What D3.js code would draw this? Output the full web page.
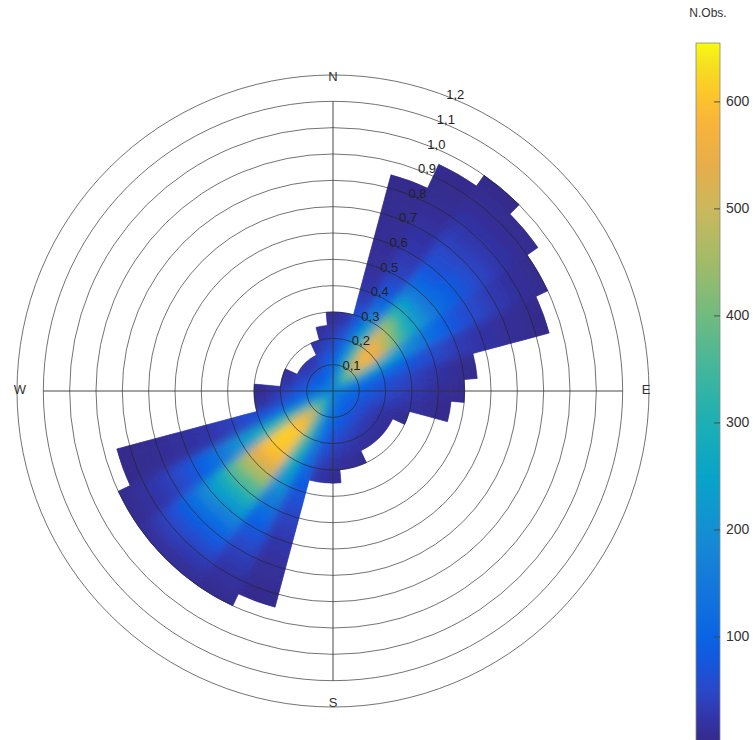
<!DOCTYPE html>
<html>
<head>
<meta charset="utf-8">
<script src="https://cdn.jsdelivr.net/npm/d3@7"></script>
<style>
  body { margin: 0; background: #fff; }
  text { font-family: "Liberation Sans", Arial, sans-serif; }
</style>
</head>
<body>
<div id="chart"></div>
<script>
// direction bins (degrees from north, 10 deg wide) and speed bins (0.05 wide)
var bearings = d3.range(0, 360, 10);
var binWidth = 0.05;
// N.Obs. per direction bin, from the centre outwards
var counts = [
  [165, 125, 90, 58, 32, 14],
  [175, 155, 125, 90, 55, 26],
  [190, 220, 215, 180, 135, 90, 55, 35, 25, 18, 14, 12, 10, 9, 8, 6, 4],
  [215, 300, 360, 350, 300, 235, 170, 115, 78, 52, 40, 32, 26, 21, 16, 12, 9, 6, 4],
  [240, 390, 520, 570, 560, 500, 420, 320, 235, 160, 110, 80, 62, 50, 38, 28, 20, 12, 8, 4],
  [240, 380, 520, 580, 540, 450, 360, 275, 210, 160, 118, 90, 72, 56, 42, 30, 20, 12, 6],
  [215, 270, 300, 290, 260, 225, 190, 160, 128, 100, 78, 62, 50, 38, 28, 20, 12, 6],
  [180, 170, 150, 130, 110, 90, 75, 62, 50, 40, 32, 26, 20, 15, 11, 8, 4],
  [160, 130, 100, 80, 62, 48, 38, 28, 20, 12, 6],
  [150, 115, 88, 66, 50, 38, 28, 20, 12, 6],
  [145, 105, 75, 52, 36, 25, 16, 10, 5],
  [140, 100, 65, 38, 20, 8],
  [135, 95, 58, 30, 12],
  [135, 92, 55, 30, 12],
  [135, 92, 58, 32, 14],
  [140, 96, 64, 36, 15],
  [145, 105, 72, 45, 24, 10],
  [150, 112, 82, 52, 30, 12],
  [155, 125, 95, 65, 40, 22, 10],
  [170, 155, 130, 100, 68, 42, 22],
  [190, 205, 200, 185, 160, 130, 105, 85, 68, 54, 42, 32, 25, 18, 13, 9, 5],
  [215, 285, 340, 350, 335, 305, 270, 230, 195, 160, 125, 95, 70, 50, 36, 25, 15, 8],
  [230, 370, 520, 595, 610, 605, 590, 530, 450, 370, 295, 225, 165, 115, 80, 52, 30, 14],
  [230, 360, 505, 590, 615, 615, 600, 540, 460, 380, 300, 235, 175, 125, 85, 56, 34, 16],
  [215, 260, 305, 320, 320, 305, 275, 235, 195, 160, 125, 95, 70, 50, 36, 25, 15, 8],
  [180, 170, 150, 125, 100, 80, 62, 48, 38, 30, 24, 19, 15, 12, 9, 6, 4],
  [170, 135, 100, 68, 38, 16],
  [160, 120, 80, 48, 25, 10],
  [150, 104, 58, 22],
  [145, 96, 50, 18],
  [140, 86, 32],
  [140, 82, 28],
  [140, 82, 28],
  [145, 86, 32],
  [150, 100, 56, 22],
  [155, 110, 74, 42, 18]
];
var rings = [0.1, 0.2, 0.3, 0.4, 0.5, 0.6, 0.7, 0.8, 0.9, 1.0, 1.1, 1.2];
var ringLabels = ["0,1", "0,2", "0,3", "0,4", "0,5", "0,6", "0,7", "0,8", "0,9", "1,0", "1,1", "1,2"];
var cardinals = ["N", "E", "S", "W"];
var cardinalAngles = [0, 90, 180, 270];
var cbTicks = [100, 200, 300, 400, 500, 600];
var cbMax = 655;

var width = 755, height = 740;
var cx = 333, cy = 391;

var svg = d3.select("#chart").append("svg")
  .attr("width", width)
  .attr("height", height);

var r = d3.scaleLinear().domain([0, 1.2]).range([0, 316]);

var color = d3.scaleLinear()
  .domain([0, 25, 50, 80, 100, 150, 200, 250, 300, 350, 400, 450, 500, 540, 580, 610, 635, 655])
  .range(["#352a87", "#3335a8", "#2a48c8", "#1258de", "#0a64e4", "#1478da", "#148fd2", "#08a4c8",
          "#1cafb4", "#42b69c", "#70bb80", "#a2bb68", "#cbb85c", "#e6ae4a", "#f8b43a", "#fcc82a",
          "#f6e020", "#f8fa10"])
  .interpolate(d3.interpolateRgb)
  .clamp(true);

var cells = [];
bearings.forEach(function(b, i) {
  counts[i].forEach(function(v, j) {
    cells.push({bearing: b, r0: j * binWidth, r1: (j + 1) * binWidth, value: v});
  });
});

var arc = d3.arc()
  .innerRadius(function(d) { return r(d.r0); })
  .outerRadius(function(d) { return r(d.r1); })
  .startAngle(function(d) { return (d.bearing - 5) * Math.PI / 180; })
  .endAngle(function(d) { return (d.bearing + 5) * Math.PI / 180; });

var defs = svg.append("defs");
defs.append("filter").attr("id", "smooth")
  .attr("x", "-20%").attr("y", "-20%").attr("width", "140%").attr("height", "140%")
  .append("feGaussianBlur").attr("stdDeviation", 5);
defs.append("clipPath").attr("id", "shape")
  .selectAll("path").data(cells).enter().append("path")
  .attr("transform", "translate(" + cx + "," + cy + ")")
  .attr("d", arc);

// sharp base layer
svg.append("g").attr("transform", "translate(" + cx + "," + cy + ")")
  .selectAll("path")
  .data(cells).enter().append("path")
  .attr("d", arc)
  .attr("fill", function(d) { return color(d.value); })
  .attr("stroke", function(d) { return color(d.value); })
  .attr("stroke-width", 0.6);

// smoothed layer, kept inside the data outline
svg.append("g").attr("clip-path", "url(#shape)")
  .append("g").attr("filter", "url(#smooth)")
  .append("g").attr("transform", "translate(" + cx + "," + cy + ")")
  .selectAll("path")
  .data(cells).enter().append("path")
  .attr("d", arc)
  .attr("fill", function(d) { return color(d.value); })
  .attr("stroke", function(d) { return color(d.value); })
  .attr("stroke-width", 0.6);

var plot = svg.append("g").attr("transform", "translate(" + cx + "," + cy + ")");

// grid
plot.append("g").selectAll("circle")
  .data(rings).enter().append("circle")
  .attr("r", function(d) { return r(d); })
  .attr("fill", "none")
  .attr("stroke", "#222")
  .attr("stroke-opacity", 0.8)
  .attr("stroke-width", 0.8);

plot.append("line")
  .attr("x1", 0).attr("x2", 0)
  .attr("y1", -r(1.1)).attr("y2", r(1.1))
  .attr("stroke", "#333").attr("stroke-width", 0.9);
plot.append("line")
  .attr("y1", 0).attr("y2", 0)
  .attr("x1", -r(1.1)).attr("x2", r(1.1))
  .attr("stroke", "#333").attr("stroke-width", 0.9);

var labelAngle = 21 * Math.PI / 180;
plot.append("g").selectAll("text")
  .data(rings).enter().append("text")
  .attr("x", function(d) { return r(d) * Math.sin(labelAngle); })
  .attr("y", function(d) { return -r(d) * Math.cos(labelAngle); })
  .attr("dominant-baseline", "middle")
  .attr("font-size", 13)
  .attr("fill", "#222")
  .text(function(d, i) { return ringLabels[i]; });

plot.append("g").selectAll("text")
  .data(cardinals).enter().append("text")
  .attr("x", function(d, i) { return 313 * Math.sin(cardinalAngles[i] * Math.PI / 180); })
  .attr("y", function(d, i) { return -313 * Math.cos(cardinalAngles[i] * Math.PI / 180); })
  .attr("text-anchor", "middle")
  .attr("dominant-baseline", "middle")
  .attr("font-size", 13)
  .attr("fill", "#333")
  .text(function(d) { return d; });

// colorbar
var cbX = 696, cbW = 24;
var cbY = d3.scaleLinear().domain([0, cbMax]).range([744, 43]);
var grad = defs.append("linearGradient").attr("id", "cbgrad")
  .attr("x1", 0).attr("x2", 0).attr("y1", 1).attr("y2", 0);
grad.selectAll("stop")
  .data(color.domain()).enter().append("stop")
  .attr("offset", function(d) { return d / cbMax; })
  .attr("stop-color", function(d) { return color(d); });

svg.append("rect")
  .attr("x", cbX).attr("y", cbY(cbMax))
  .attr("width", cbW).attr("height", cbY(0) - cbY(cbMax))
  .attr("fill", "url(#cbgrad)")
  .attr("stroke", "#888").attr("stroke-width", 0.8);

var cbAxis = svg.append("g");
cbAxis.selectAll("line")
  .data(cbTicks).enter().append("line")
  .attr("x1", cbX + cbW - 6).attr("x2", cbX + cbW)
  .attr("y1", function(d) { return cbY(d); })
  .attr("y2", function(d) { return cbY(d); })
  .attr("stroke", "#444").attr("stroke-width", 0.9);
cbAxis.selectAll("text")
  .data(cbTicks).enter().append("text")
  .attr("x", cbX + cbW + 6)
  .attr("y", function(d) { return cbY(d); })
  .attr("dominant-baseline", "middle")
  .attr("font-size", 14)
  .attr("fill", "#333")
  .text(function(d) { return d; });

svg.append("text")
  .attr("x", cbX + cbW / 2).attr("y", 17)
  .attr("text-anchor", "middle")
  .attr("font-size", 12)
  .attr("fill", "#333")
  .text("N.Obs.");
</script>
</body>
</html>
